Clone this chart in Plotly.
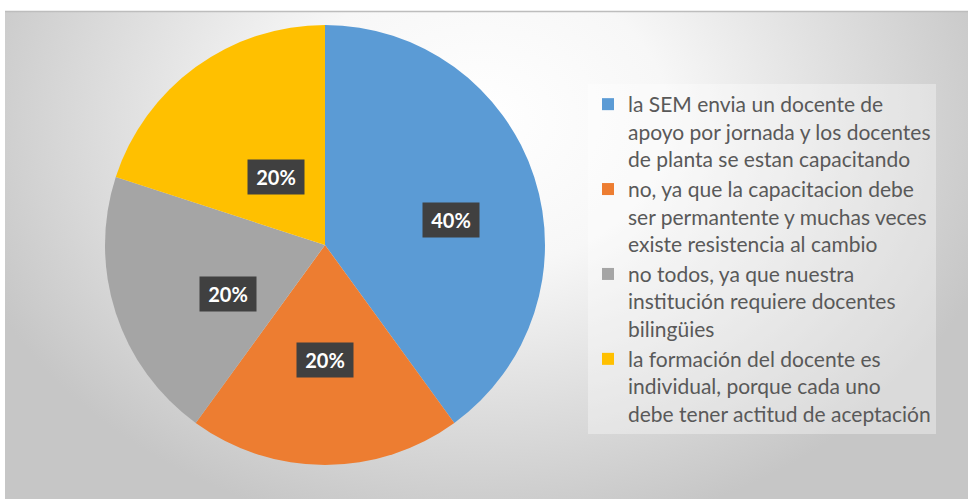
import base64
import math

import plotly.graph_objects as go

# --- data -------------------------------------------------------------
labels = [
    "la SEM envia un docente de<br>apoyo por jornada y los docentes<br>de planta se estan capacitando",
    "no, ya que la capacitacion debe<br>ser permantente y muchas veces<br>existe resistencia al cambio",
    "no todos, ya que nuestra<br>institución requiere docentes<br>bilingüies",
    "la formación del docente es<br>individual, porque cada uno<br>debe tener actitud de aceptación",
]
values = [40, 20, 20, 20]
colors = ["#5B9BD5", "#ED7D31", "#A5A5A5", "#FFC000"]

W, H = 968, 499
CX, CY, R = 325, 245, 220  # pie centre / radius in px

# soft radial backdrop like the Office chart area
svg = f"""<svg xmlns='http://www.w3.org/2000/svg' width='{W}' height='{H}' viewBox='0 0 {W} {H}'>
<defs><radialGradient id='g' gradientUnits='userSpaceOnUse' cx='480' cy='120' r='540'
 gradientTransform='translate(480 120) scale(1 0.78) translate(-480 -120)'>
<stop offset='0' stop-color='#ffffff'/><stop offset='0.35' stop-color='#f7f7f7'/>
<stop offset='1' stop-color='#c6c6c6'/></radialGradient></defs>
<rect width='{W}' height='{H}' fill='#ffffff'/>
<rect x='5' y='11' width='{W - 5}' height='{H - 11}' fill='url(#g)'/>
<line x1='5' y1='11.5' x2='{W}' y2='11.5' stroke='#bdbdbd' stroke-width='1.5'/>
</svg>"""
bg_src = "data:image/svg+xml;base64," + base64.b64encode(svg.encode()).decode()

fig = go.Figure(go.Pie(
    labels=labels,
    values=values,
    sort=False,
    direction="clockwise",
    rotation=0,
    marker=dict(colors=colors, line=dict(width=0)),
    textinfo="none",
    hoverinfo="label+percent",
    domain=dict(x=[(CX - R) / W, (CX + R) / W],
                y=[1 - (CY + R) / H, 1 - (CY - R) / H]),
))

# percentage labels in dark boxes, placed at each slice's mid angle
total = sum(values)
cum = 0
for v in values:
    mid = 2 * math.pi * (cum + v / 2) / total
    cum += v
    px_ = CX + 0.6 * R * math.sin(mid)
    py_ = CY - 0.55 * R * math.cos(mid) + 12
    fig.add_annotation(
        x=px_ / W, y=1 - py_ / H, xref="paper", yref="paper",
        text=f"<b>{v / total:.0%}</b>", showarrow=False,
        font=dict(family="Lato, Arial", size=20, color="white"),
        bgcolor="#404040", width=48, height=26, borderpad=4,
    )

fig.update_layout(
    width=W, height=H, autosize=False,
    margin=dict(l=0, r=0, t=0, b=0),
    paper_bgcolor="white",
    plot_bgcolor="rgba(0,0,0,0)",
    font=dict(family="Lato, Arial", color="#595959"),
    images=[dict(source=bg_src, xref="paper", yref="paper", x=0, y=1,
                 sizex=1, sizey=1, xanchor="left", yanchor="top",
                 sizing="stretch", layer="below")],
    legend=dict(
        x=588 / W, y=1 - 84 / H, xanchor="left", yanchor="top",
        bgcolor="rgba(255,255,255,0.35)",
        font=dict(family="Lato, Arial", size=21, color="#595959"),
        valign="top",
    ),
)

# drop the default page margin so the chart sits at the window origin
fig.write_html("out.html", config={"displayModeBar": False},
               post_script="document.body.style.margin='0';")
